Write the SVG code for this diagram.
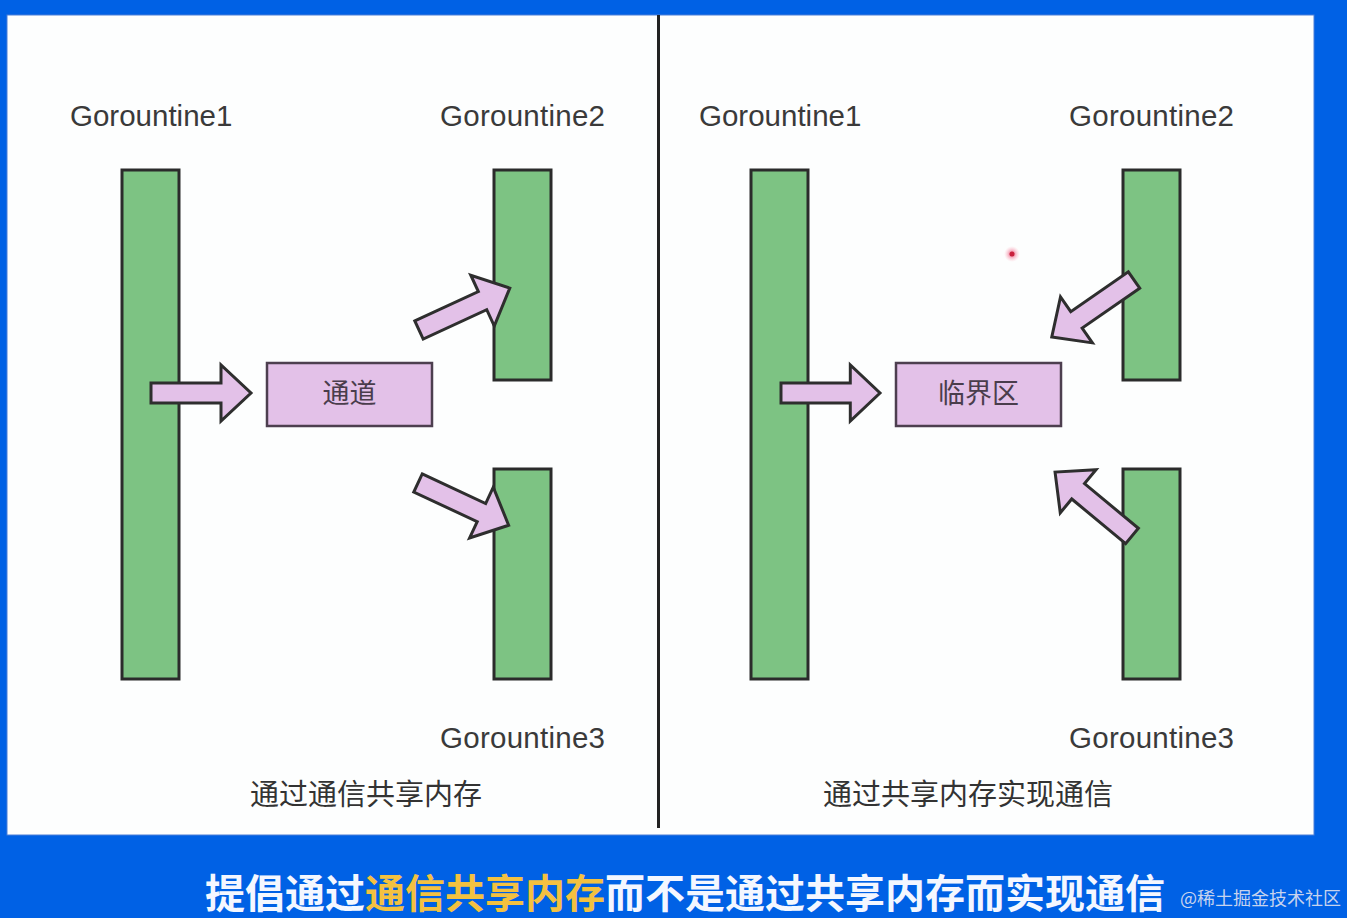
<svg xmlns="http://www.w3.org/2000/svg" xmlns:xlink="http://www.w3.org/1999/xlink" width="1347" height="918" viewBox="0 0 1347 918">
<style>
.bar{fill:#7dc383;stroke:#2b2b2b;stroke-width:3}
.box{fill:#e3c1e8;stroke:#4d3f4f;stroke-width:2.5}
.arr{fill:#e3c1e8;stroke:#2e2e2e;stroke-width:3;stroke-linejoin:miter}
.lbl{font-family:"Liberation Sans","Noto Sans",sans-serif;font-size:29.5px;fill:#3a3a3a}
.cap{font-family:"Liberation Sans","Noto Sans CJK SC",sans-serif;font-size:29px;fill:#333}
.btx{font-family:"Liberation Sans","Noto Sans CJK SC",sans-serif;font-size:27px;fill:#4a3d4c;text-anchor:middle}
.ban{font-family:"Noto Sans CJK SC",sans-serif;font-size:40px;font-weight:bold;fill:#f4f7ff}
.hl{fill:#f3c140}
.wm{font-family:"Noto Sans CJK SC",serif;font-size:18px;fill:#c7d3ee}
</style>
<defs>
<path id="arrow" d="M0,-10 L70,-10 L70,-28 L100,0 L70,28 L70,10 L0,10 Z"/>
<radialGradient id="glow"><stop offset="0" stop-color="#e0204a" stop-opacity="0.9"/><stop offset="0.45" stop-color="#f07090" stop-opacity="0.5"/><stop offset="1" stop-color="#ffb0c0" stop-opacity="0"/></radialGradient>
</defs>
<rect x="0" y="0" width="1347" height="918" fill="#0061e5"/>
<rect x="7" y="15" width="1307" height="820" fill="#fdfefe" stroke="#4a7fd8" stroke-width="1"/>
<line x1="658.5" y1="15" x2="658.5" y2="828" stroke="#222" stroke-width="3"/>

<g id="left-g1"><text class="lbl" x="70" y="126">Gorountine1</text><rect class="bar" x="122" y="170" width="57" height="509"/></g>
<g id="left-g2"><text class="lbl" x="440" y="126" textLength="165">Gorountine2</text><rect class="bar" x="494" y="170" width="57" height="210"/></g>
<g id="left-g3"><text class="lbl" x="440" y="748" textLength="165">Gorountine3</text><rect class="bar" x="494" y="469" width="57" height="210"/></g>
<g id="left-channel"><rect class="box" x="267" y="363" width="165" height="63"/><text class="btx" x="349.500" y="403">通道</text></g>

<g id="right-g1"><text class="lbl" x="699" y="126">Gorountine1</text><rect class="bar" x="751" y="170" width="57" height="509"/></g>
<g id="right-g2"><text class="lbl" x="1069" y="126" textLength="165">Gorountine2</text><rect class="bar" x="1123" y="170" width="57" height="210"/></g>
<g id="right-g3"><text class="lbl" x="1069" y="748" textLength="165">Gorountine3</text><rect class="bar" x="1123" y="469" width="57" height="210"/></g>
<g id="right-critical"><rect class="box" x="896" y="363" width="165" height="63"/><text class="btx" x="978.500" y="403">临界区</text></g>

<g id="connectors">
<use xlink:href="#arrow" class="arr" transform="translate(151,393)"/>
<use xlink:href="#arrow" class="arr" transform="translate(419,330) rotate(-24.8)"/>
<use xlink:href="#arrow" class="arr" transform="translate(418,483) rotate(25)"/>
<use xlink:href="#arrow" class="arr" transform="translate(781,393) scale(0.99,1)"/>
<use xlink:href="#arrow" class="arr" transform="translate(1134,280) rotate(145.3)"/>
<use xlink:href="#arrow" class="arr" transform="translate(1132,536) rotate(-140.3)"/>
</g>

<g id="captions">
<text class="cap" x="250" y="805">通过通信共享内存</text>
<text class="cap" x="823" y="805">通过共享内存实现通信</text>
</g>

<circle cx="1012" cy="254" r="8" fill="url(#glow)"/>
<circle cx="1012" cy="254" r="2.5" fill="#c8203c"/>

<g id="banner">
<text class="ban" x="205" y="908">提倡通过<tspan class="hl">通信共享内存</tspan>而不是通过共享内存而实现通信</text>
<text class="wm" x="1180" y="905">@稀土掘金技术社区</text>
</g>
</svg>
